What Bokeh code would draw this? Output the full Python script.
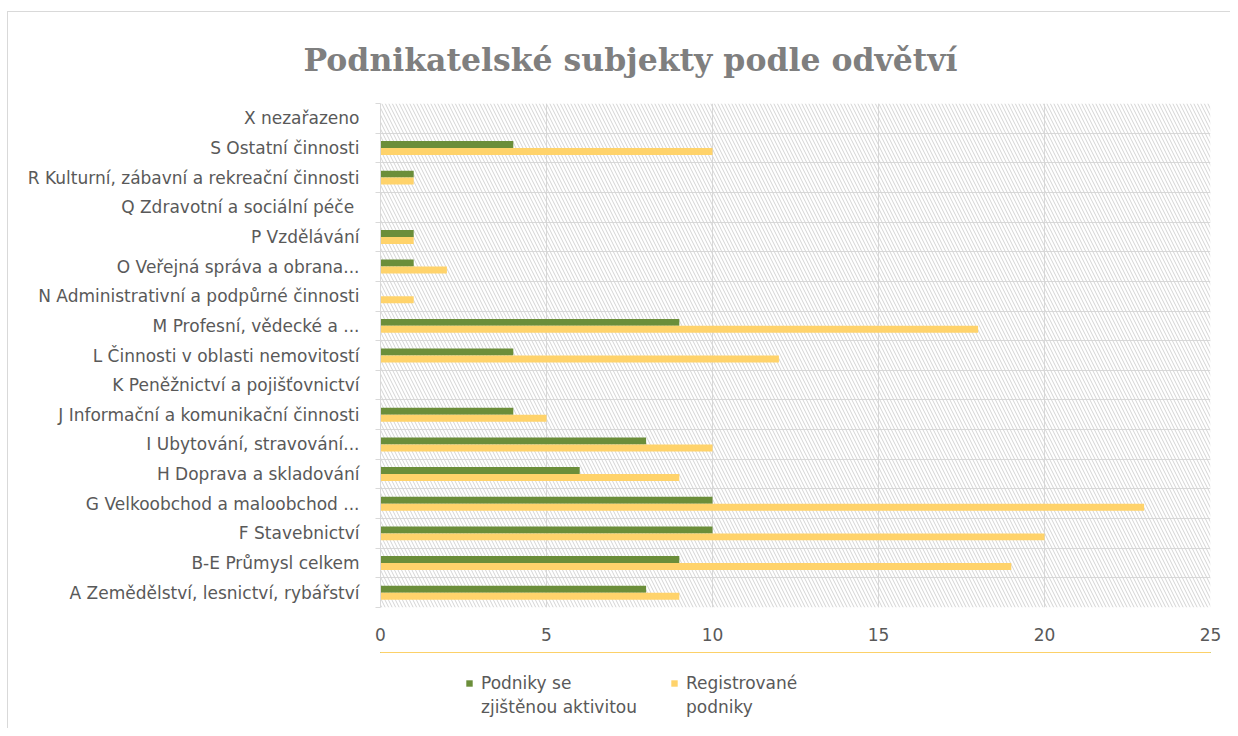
from bokeh.plotting import figure
from bokeh.layouts import column
from bokeh.models import (Range1d, FixedTicker, BoxAnnotation, Legend, LegendItem,
                          ColumnDataSource, Title)
from bokeh.embed import file_html
from bokeh.resources import INLINE

categories = [
    "A Zemědělství, lesnictví, rybářství",
    "B-E Průmysl celkem",
    "F Stavebnictví",
    "G Velkoobchod a maloobchod ...",
    "H Doprava a skladování",
    "I Ubytování, stravování...",
    "J Informační a komunikační činnosti",
    "K Peněžnictví a pojišťovnictví",
    "L Činnosti v oblasti nemovitostí",
    "M Profesní, vědecké a ...",
    "N Administrativní a podpůrné činnosti",
    "O Veřejná správa a obrana...",
    "P Vzdělávání",
    "Q  Zdravotní a sociální péče",
    "R Kulturní, zábavní a rekreační činnosti",
    "S Ostatní činnosti",
    "X nezařazeno",
]
active = [8, 9, 10, 10, 6, 8, 4, 0, 4, 9, 0, 1, 1, 0, 1, 4, 0]
registered = [9, 19, 20, 23, 9, 10, 5, 0, 12, 18, 1, 2, 1, 0, 1, 10, 0]
x_ticks = [0, 5, 10, 15, 20, 25]
series_names = ["Podniky se\nzjištěnou aktivitou", "Registrované\npodniky"]
series_colors = ["#6b8e3a", "#ffd36b"]
title_text = "Podnikatelské subjekty podle odvětví"

n = len(categories)
centers = [i + 0.5 for i in range(n)]
bar_h = 0.235
src = ColumnDataSource(dict(
    yc=centers,
    y_act=[c + bar_h / 2 for c in centers],
    y_reg=[c - bar_h / 2 for c in centers],
    active=active,
    registered=registered,
))

LABEL_FONT = "DejaVu Sans"
LABEL_SIZE = "17px"
LABEL_COLOR = "#595959"
GRID = "#d9d9d9"

p = figure(width=1222, height=640, output_backend="svg", toolbar_location=None,
           x_range=Range1d(0, 25), y_range=Range1d(0, n),
           frame_width=830, frame_height=504,
           min_border_left=372, min_border_right=20, min_border_top=91,
           min_border_bottom=45, title=None)

p.add_layout(Title(text=title_text, align="left", offset=-77,
                   text_font="DejaVu Serif", text_font_style="bold",
                   text_font_size="31.5px", text_color="#7f7f7f", standoff=52), "above")

p.outline_line_color = None
p.background_fill_color = "white"
p.border_fill_color = "white"

# hatched plot area
p.add_layout(BoxAnnotation(left=0, right=25, bottom=0, top=n, fill_alpha=0,
                           line_alpha=0, hatch_pattern="\\", hatch_color="#d4d4d4",
                           hatch_scale=7, hatch_weight=1, level="underlay"))

p.hbar(y="y_act", right="active", left=0, height=bar_h, source=src,
       fill_color=series_colors[0], line_color=None)
p.hbar(y="y_reg", right="registered", left=0, height=bar_h, source=src,
       fill_color=series_colors[1], line_color=None)

# x axis
p.xaxis.ticker = FixedTicker(ticks=x_ticks)
p.xaxis.axis_line_color = None
p.xaxis.major_tick_line_color = None
p.xaxis.minor_tick_line_color = None
p.xaxis.major_label_text_font = LABEL_FONT
p.xaxis.major_label_text_font_size = LABEL_SIZE
p.xaxis.major_label_text_color = LABEL_COLOR
p.xaxis.major_label_standoff = 14
p.xgrid.ticker = FixedTicker(ticks=x_ticks)
p.xgrid.grid_line_color = GRID

# y axis (categories)
p.yaxis.ticker = FixedTicker(ticks=centers, minor_ticks=list(range(n + 1)))
p.yaxis.major_label_overrides = {c: lab for c, lab in zip(centers, categories)}
p.yaxis.major_tick_line_color = None
p.yaxis.minor_tick_line_color = GRID
p.yaxis.minor_tick_out = 5
p.yaxis.minor_tick_in = 0
p.yaxis.axis_line_color = GRID
p.yaxis.major_label_text_font = LABEL_FONT
p.yaxis.major_label_text_font_size = LABEL_SIZE
p.yaxis.major_label_text_color = LABEL_COLOR
p.yaxis.major_label_standoff = 15
p.ygrid.ticker = FixedTicker(ticks=list(range(n + 1)))
p.ygrid.grid_line_color = GRID

# legend strip below the chart (its own small figure, legend inside its frame);
# its y range lies outside the data, so the key renderers draw no visible bars
lf = figure(width=1222, height=76, output_backend="svg", toolbar_location=None,
            x_range=Range1d(0, 1), y_range=Range1d(-2, -1),
            min_border_left=0, min_border_right=0, min_border_top=0,
            min_border_bottom=0, title=None)
lf.axis.visible = False
lf.grid.visible = False
lf.outline_line_color = None
lf.background_fill_color = "white"
lf.border_fill_color = "white"

key_g = lf.hbar(y="yc", right="active", left=0, height=bar_h, source=src,
                fill_color=series_colors[0], line_color=None)
key_y = lf.hbar(y="yc", right="registered", left=0, height=bar_h, source=src,
                fill_color=series_colors[1], line_color=None)
blank = lf.hbar(y="y", right="r", left=0, height=bar_h,
                source=ColumnDataSource(dict(y=[], r=[])), fill_alpha=0, line_alpha=0)

a1, a2 = series_names[0].split("\n")
b1, b2 = series_names[1].split("\n")
legend = Legend(items=[LegendItem(label=a1, renderers=[key_g]),
                       LegendItem(label=a2, renderers=[blank]),
                       LegendItem(label=b1, renderers=[key_y]),
                       LegendItem(label=b2, renderers=[blank])],
                orientation="vertical", ncols=2, location=(85, 11),
                glyph_width=8, glyph_height=8, label_text_font=LABEL_FONT,
                label_text_font_size=LABEL_SIZE, label_text_color=LABEL_COLOR,
                label_width=185, label_height=20, spacing=4, label_standoff=8,
                padding=2, margin=0,
                border_line_color=None, background_fill_alpha=0)
lf.add_layout(legend)

layout = column(p, lf, spacing=0,
                styles={"border-top": "1px solid #d9d9d9",
                        "border-left": "1px solid #d9d9d9",
                        "margin-top": "11px", "margin-left": "7px"})

open("out.html", "w").write(file_html(layout, INLINE))
